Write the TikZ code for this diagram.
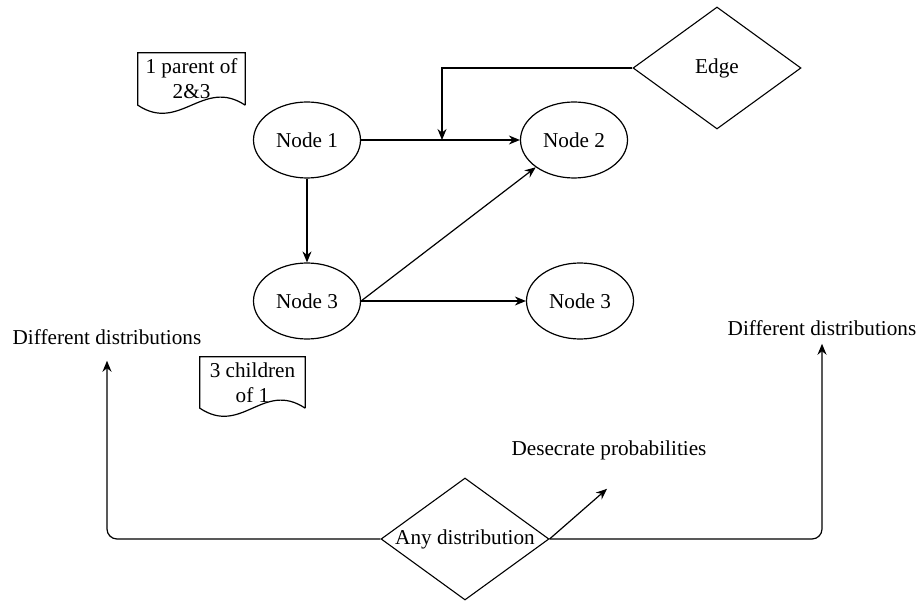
\documentclass[tikz,border=0pt]{standalone}
\usepackage{fontspec}
\setmainfont{Liberation Serif}
\usetikzlibrary{shapes.geometric,arrows.meta}
\begin{document}
\begin{tikzpicture}[x=1pt,y=-1pt,
 every node/.style={font=\fontsize{21.2}{25}\selectfont, text=black},
 ell/.style={draw, ellipse, line width=1.2pt, minimum width=107pt, minimum height=76pt, inner sep=0pt},
 dia/.style={draw, diamond, line width=1.1pt, minimum width=168pt, minimum height=122pt, inner sep=0pt},
 docbox/.style={rectangle, inner sep=0pt, align=center},
 arr/.style={line width=1.2pt, -{Stealth[length=11pt,width=9pt]}},
 ln/.style={line width=1.2pt},
 lbl/.style={inner sep=0pt}]
\useasboundingbox (0,0) rectangle (920,601);

% nodes
\node[ell] (n1) at (307,140) {Node 1};
\node[ell] (n2) at (574,140) {Node 2};
\node[ell] (n3) at (307,301) {Node 3};
\node[ell] (n4) at (580,301) {Node 3};
\node[dia, label=center:Edge] (edge) at (717,68) {};
\node[dia, label=center:Any distribution] (any) at (465,539) {};

% documents
\node[docbox, minimum width=107pt, minimum height=52pt] (d1) at (191.5,79) {1 parent of\\2\&3};
\draw[ln] (d1.south east) -- (d1.north east) -- (d1.north west) -- (d1.south west)
  .. controls +(42,28) and +(-42,-28) .. (d1.south east);
\node[docbox, minimum width=105pt, minimum height=51pt] (d2) at (252.5,382.5) {3 children\\of 1};
\draw[ln] (d2.south east) -- (d2.north east) -- (d2.north west) -- (d2.south west)
  .. controls +(42,28) and +(-42,-28) .. (d2.south east);

% text labels
\node[lbl] (dl) at (107,337) {Different distributions};
\node[lbl] (dr) at (822,328) {Different distributions};
\node[lbl] (dp) at (609,450) {Desecrate probabilities};

% connectors
\coordinate (j) at (442,140);
\draw[arr] (n1.east) -- (n2.west);
\draw[arr] (edge.west) -| (j);
\draw[arr] (n1.south) -- (n3.north);
\draw[arr] (n3.east) -- (n2.south west);
\draw[arr] (n3.east) -- (n4.west);
\draw[arr, rounded corners=10pt] (any.west) -| ([yshift=-16pt]dl.south);
\draw[arr, rounded corners=10pt] (any.east) -| ([yshift=-8pt]dr.south);
\draw[arr] (any.east) -- ([xshift=-2pt,yshift=-29pt]dp.south);
\end{tikzpicture}
\end{document}
